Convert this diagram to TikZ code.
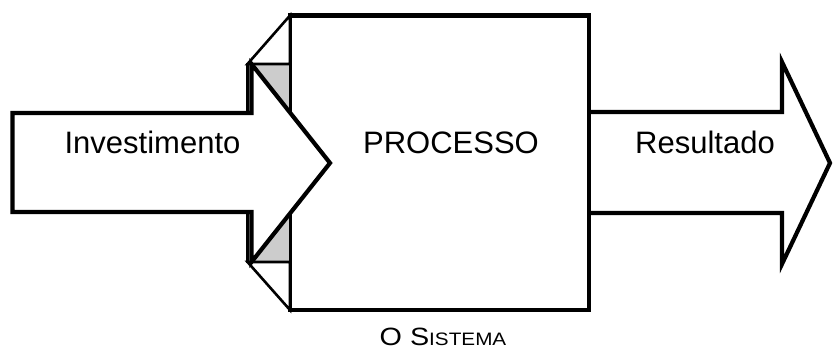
\documentclass[tikz,border=0pt]{standalone}
\usepackage{fontspec}
\setmainfont{Liberation Sans}
\begin{document}
\begin{tikzpicture}[x=1pt,y=-1pt,
  thick line/.style={line width=4.2pt, line join=miter},
  thin line/.style={line width=2.6pt, line join=miter},
  big text/.style={font=\fontsize{31}{36}\selectfont, inner sep=0pt, anchor=base}]
\useasboundingbox (0,0) rectangle (835,352);
% right arrow (Resultado)
\fill[white] (589,112) -- (782,112) -- (782,62) -- (830,163) -- (782,264) -- (782,213) -- (589,213) -- cycle;
\draw[thick line] (589,112) -- (782,112) -- (782,62) -- (830,163) -- (782,264) -- (782,213) -- (589,213);
% system box
\draw[thick line, fill=white] (290,15.5) rectangle (589,310);
% shaded fold behind the input arrow
\draw[thin line, fill=gray!40] (247.5,64) rectangle (290,262);
\draw[thin line, fill=white] (290,15.5) -- (247.5,64) -- (290,64) -- cycle;
\draw[thin line, fill=white] (290,310) -- (247.5,262) -- (290,262) -- cycle;
% left arrow (Investimento)
\draw[thick line, fill=white] (12.5,113) -- (251.5,113) -- (251.5,64) -- (330,163) -- (251.5,262) -- (251.5,212) -- (12.5,212) -- cycle;
% texts
\node[big text] (inv) at (152.5,154) {Investimento};
\node[big text] (proc) at (451,154) {PROCESSO};
\node[big text] (res) at (705,154) {Resultado};
\node[inner sep=0pt, anchor=base] (sis) at (443,346) {\scalebox{1.15}[1]{\fontsize{25}{28}\selectfont O S{\fontsize{18}{20}\selectfont ISTEMA}}};
\end{tikzpicture}
\end{document}
